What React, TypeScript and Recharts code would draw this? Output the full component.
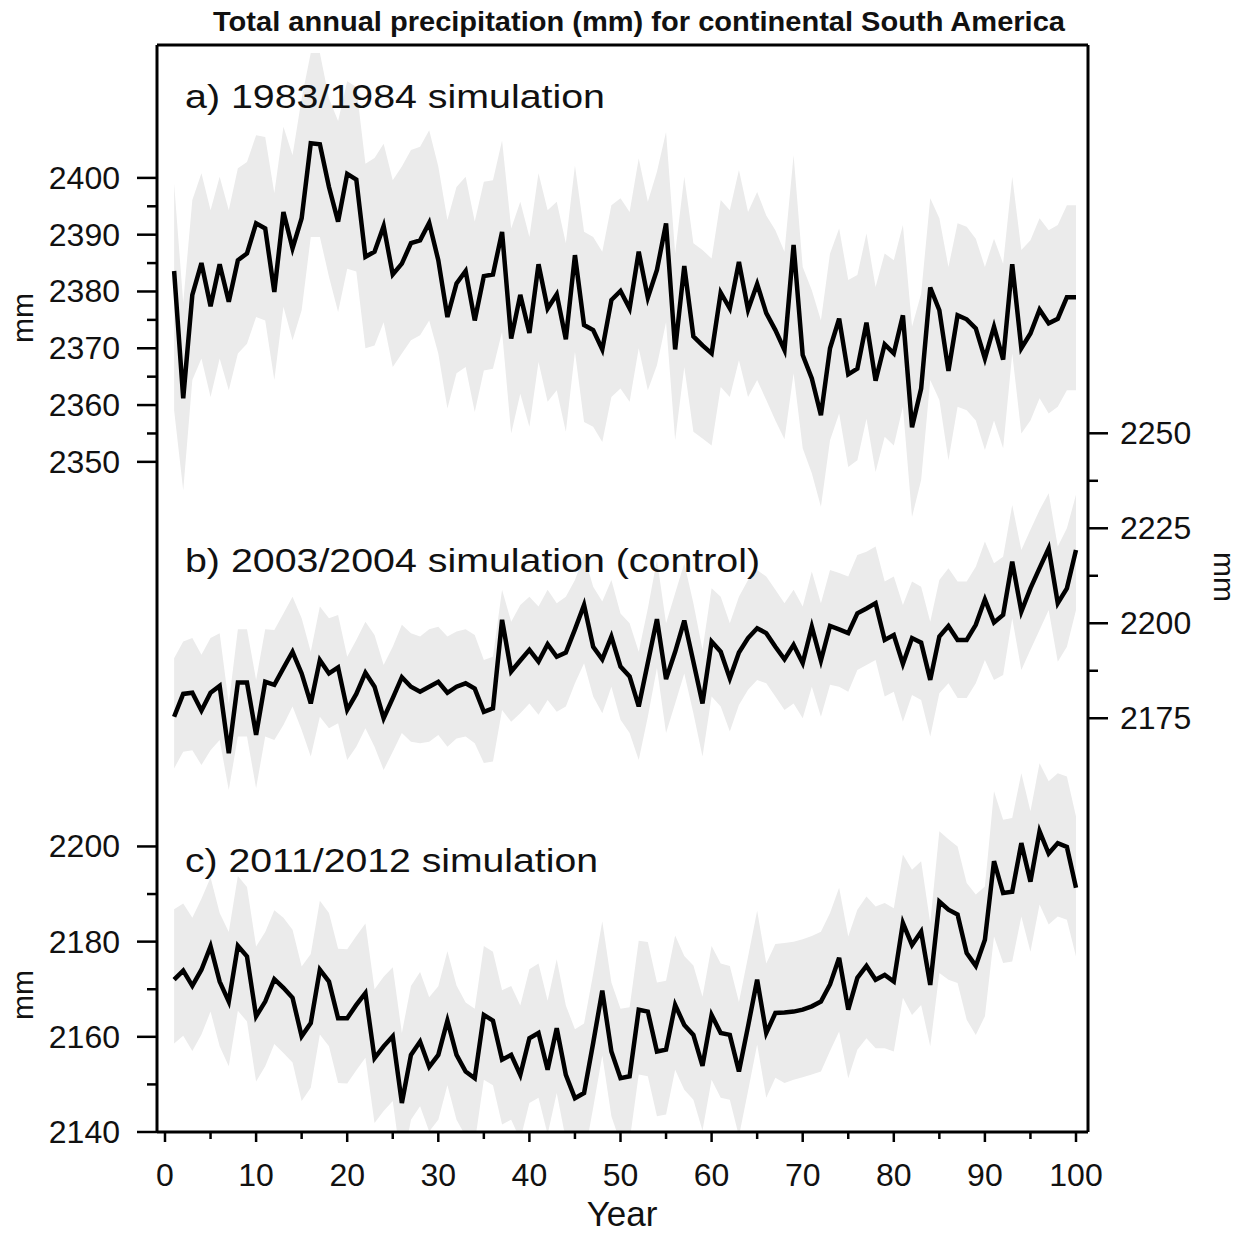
import React from 'react';
import { ComposedChart, Area, Line, XAxis, YAxis } from 'recharts';

const years: number[] = Array.from({ length: 100 }, (_, i) => i + 1);

const aMean = [2383.6,2361.2,2379.4,2385.0,2377.4,2384.8,2378.2,2385.5,2386.7,2392.0,2391.1,2379.9,2394.0,2387.6,2392.9,2406.1,2405.9,2398.4,2392.3,2400.7,2399.7,2386.1,2387.0,2391.5,2383.0,2384.9,2388.5,2389.0,2392.1,2385.5,2375.5,2381.4,2383.6,2374.9,2382.7,2383.0,2390.5,2371.7,2379.4,2372.7,2384.8,2377.0,2379.5,2371.6,2386.4,2374.1,2373.2,2369.8,2378.5,2380.1,2377.0,2387.0,2378.9,2383.8,2392.0,2369.8,2384.5,2372.1,2370.5,2369.1,2379.8,2377.0,2385.2,2376.8,2381.3,2376.2,2373.2,2369.7,2388.2,2368.8,2364.7,2358.2,2370.0,2375.2,2365.4,2366.4,2374.5,2364.3,2370.7,2369.1,2375.8,2356.1,2362.9,2380.7,2376.7,2366.0,2375.8,2375.1,2373.5,2368.2,2373.8,2368.0,2384.8,2370.0,2372.6,2376.8,2374.4,2375.2,2379.0,2379.0];
const aHigh = [2399.0,2378.0,2396.1,2400.8,2394.3,2400.2,2394.3,2401.7,2402.8,2407.5,2407.2,2397.3,2409.0,2404.0,2414.0,2422.0,2422.0,2414.0,2410.0,2417.0,2416.0,2402.5,2403.5,2406.0,2399.6,2402.0,2404.9,2405.5,2408.4,2402.0,2392.6,2398.4,2400.2,2392.3,2399.3,2399.6,2406.6,2391.1,2395.8,2389.6,2400.8,2394.3,2395.8,2388.5,2402.2,2390.5,2389.6,2387.0,2395.2,2396.4,2394.0,2403.4,2395.8,2401.1,2408.1,2386.7,2400.2,2388.5,2387.3,2385.8,2396.1,2394.3,2401.4,2394.0,2397.5,2393.4,2390.8,2387.0,2404.0,2384.3,2380.2,2374.9,2386.7,2391.1,2382.0,2382.9,2390.2,2380.8,2386.7,2385.5,2391.7,2373.8,2379.6,2396.4,2392.9,2384.3,2392.0,2391.4,2389.3,2384.3,2389.3,2384.9,2400.2,2387.3,2389.0,2392.9,2390.8,2391.7,2395.2,2395.2];
const aLow = [2359.1,2345.0,2364.4,2368.2,2361.4,2368.2,2362.6,2369.1,2370.8,2375.5,2374.9,2364.4,2377.3,2371.4,2376.7,2389.6,2389.6,2382.6,2376.4,2384.0,2383.5,2370.0,2370.5,2374.6,2366.7,2369.1,2371.4,2372.3,2374.9,2369.1,2359.4,2365.6,2366.7,2358.8,2366.1,2366.4,2372.9,2355.0,2362.0,2356.2,2367.6,2360.6,2362.6,2355.3,2369.4,2357.0,2356.2,2353.5,2361.4,2362.9,2360.6,2370.0,2362.6,2367.0,2374.6,2353.8,2366.7,2355.3,2354.1,2352.9,2363.2,2361.4,2367.9,2361.4,2364.4,2360.9,2357.3,2354.0,2365.6,2352.4,2348.0,2342.1,2353.8,2358.5,2349.1,2350.3,2357.6,2348.2,2354.4,2352.9,2359.7,2340.3,2346.8,2364.4,2360.9,2350.3,2359.7,2359.1,2357.3,2352.1,2357.3,2352.4,2369.1,2355.0,2357.3,2361.2,2358.5,2359.7,2362.6,2362.6];

const bMean = [2175.4,2181.4,2181.7,2177.0,2181.7,2183.5,2165.8,2184.4,2184.4,2170.6,2184.6,2183.8,2188.2,2192.5,2186.8,2178.9,2190.3,2186.8,2188.4,2177.2,2181.4,2187.0,2183.3,2175.0,2180.3,2185.8,2183.3,2182.0,2183.3,2184.6,2181.7,2183.3,2184.2,2182.8,2176.7,2177.6,2200.9,2187.3,2190.2,2193.0,2189.9,2194.5,2191.2,2192.3,2198.4,2204.8,2193.8,2190.5,2196.5,2188.6,2186.0,2178.1,2189.6,2201.1,2185.3,2192.5,2200.7,2189.9,2178.9,2195.2,2192.5,2185.5,2192.3,2196.1,2198.7,2197.4,2193.8,2190.5,2194.3,2189.5,2199.1,2190.2,2199.3,2198.4,2197.4,2202.6,2203.9,2205.3,2195.6,2196.9,2189.3,2196.1,2194.9,2185.1,2196.5,2199.3,2195.6,2195.6,2199.6,2206.3,2200.2,2202.2,2216.2,2203.1,2209.2,2214.5,2219.7,2205.3,2209.2,2219.3];
const bHigh = [2190.8,2195.2,2196.1,2191.7,2196.1,2197.4,2178.9,2198.4,2198.4,2185.1,2198.4,2198.2,2202.6,2207.0,2201.3,2192.5,2204.4,2201.3,2202.2,2191.2,2195.6,2200.4,2196.9,2189.0,2193.8,2199.6,2197.4,2196.5,2198.4,2199.1,2196.5,2197.8,2198.4,2196.9,2190.3,2191.2,2208.8,2200.4,2204.8,2207.0,2204.4,2208.8,2205.3,2207.0,2211.4,2218.0,2209.6,2205.7,2211.4,2202.6,2200.0,2192.5,2203.9,2216.7,2200.0,2207.9,2215.8,2205.3,2193.0,2209.2,2207.0,2200.0,2207.0,2211.4,2214.0,2212.3,2208.8,2205.3,2208.8,2204.4,2213.6,2205.3,2214.0,2213.2,2212.3,2218.0,2218.8,2220.2,2211.0,2212.3,2204.8,2211.0,2209.6,2200.4,2211.4,2214.5,2211.0,2211.0,2214.9,2221.5,2215.8,2217.5,2231.1,2219.3,2224.6,2229.8,2234.2,2220.2,2225.0,2233.8];
const bLow = [2161.8,2166.2,2166.6,2162.7,2166.6,2169.3,2156.1,2170.2,2170.2,2156.6,2170.2,2169.3,2173.2,2178.1,2171.9,2164.9,2175.4,2172.4,2173.7,2164.0,2167.5,2172.4,2167.5,2161.4,2166.2,2171.1,2168.8,2168.4,2168.8,2170.6,2167.5,2169.7,2170.2,2168.4,2163.2,2163.6,2177.2,2174.1,2176.3,2178.9,2175.9,2179.8,2176.7,2178.1,2184.2,2189.5,2180.7,2176.3,2183.3,2174.6,2171.1,2164.0,2175.4,2188.2,2171.1,2178.9,2186.8,2176.3,2164.9,2180.7,2178.1,2171.5,2178.5,2182.5,2185.1,2184.2,2180.7,2177.2,2178.9,2175.0,2183.3,2175.4,2183.8,2183.3,2182.0,2187.7,2189.0,2190.3,2180.7,2182.0,2174.1,2181.1,2179.8,2170.2,2181.6,2184.2,2180.3,2180.3,2184.2,2190.3,2185.1,2186.4,2201.3,2187.7,2193.0,2198.2,2203.5,2189.9,2193.8,2203.5];

const cMean = [2172.0,2173.9,2170.7,2174.1,2179.0,2171.6,2167.4,2179.1,2176.9,2164.3,2167.4,2172.1,2170.3,2168.2,2160.1,2162.9,2174.1,2171.6,2163.9,2163.9,2166.7,2169.2,2155.5,2158.0,2160.1,2146.1,2156.2,2159.0,2153.7,2156.2,2163.4,2156.2,2152.7,2151.3,2164.6,2163.4,2155.2,2156.2,2152.0,2159.7,2160.8,2153.1,2161.8,2152.0,2147.1,2148.2,2158.7,2169.7,2156.9,2151.3,2151.7,2165.7,2165.3,2156.9,2157.3,2166.7,2162.5,2160.4,2153.9,2164.6,2160.8,2160.4,2152.7,2162.2,2172.0,2160.8,2165.0,2165.1,2165.3,2165.7,2166.4,2167.4,2171.0,2176.6,2165.7,2172.4,2174.9,2172.0,2173.0,2171.6,2183.9,2179.3,2182.1,2170.9,2188.4,2186.7,2185.7,2177.6,2174.9,2180.4,2196.9,2190.2,2190.5,2200.7,2192.6,2203.2,2198.5,2200.7,2199.9,2191.3];
const cHigh = [2186.8,2188.0,2185.0,2189.0,2193.5,2186.0,2182.0,2193.8,2191.5,2179.0,2182.0,2186.6,2185.0,2182.5,2174.8,2177.4,2188.6,2186.0,2178.5,2178.4,2181.2,2183.8,2170.0,2172.6,2174.6,2160.8,2170.7,2173.6,2168.3,2170.6,2178.0,2170.8,2167.2,2165.9,2179.1,2177.9,2169.8,2170.7,2166.6,2174.2,2175.4,2167.6,2176.3,2166.6,2161.6,2162.8,2173.2,2184.3,2171.4,2165.9,2166.2,2180.2,2179.9,2171.4,2171.8,2181.3,2177.0,2175.0,2168.4,2179.1,2175.4,2174.9,2167.3,2176.8,2186.5,2175.4,2179.5,2179.7,2180.0,2180.5,2181.2,2182.1,2186.0,2191.3,2181.1,2186.7,2189.5,2187.4,2188.1,2187.0,2198.3,2195.1,2196.9,2183.9,2203.2,2201.5,2200.0,2192.3,2189.9,2191.6,2211.6,2205.6,2206.0,2215.4,2207.4,2217.5,2213.7,2215.4,2214.7,2206.3];
const cLow = [2158.6,2160.2,2157.0,2160.5,2165.3,2158.0,2153.8,2165.5,2163.2,2150.6,2153.8,2158.5,2156.6,2154.6,2146.5,2149.3,2160.5,2158.0,2150.3,2150.2,2153.0,2155.6,2141.9,2144.4,2146.5,2132.5,2142.6,2145.4,2140.1,2142.6,2149.8,2142.6,2139.1,2137.7,2151.0,2149.8,2141.6,2142.6,2138.4,2146.1,2147.2,2139.5,2148.2,2138.4,2133.5,2134.6,2145.1,2156.1,2143.3,2137.7,2138.1,2152.1,2151.7,2143.3,2143.7,2153.1,2148.9,2146.8,2140.3,2151.0,2147.2,2146.8,2139.1,2148.6,2158.4,2147.2,2151.4,2150.3,2151.0,2151.5,2152.1,2152.7,2157.0,2161.1,2151.3,2157.3,2159.7,2157.6,2157.6,2156.9,2168.2,2164.6,2166.7,2158.0,2173.4,2172.0,2171.3,2163.6,2160.4,2164.3,2181.1,2175.5,2175.8,2185.3,2177.9,2187.8,2183.6,2185.3,2184.6,2176.9];

const xTicks = [0,5,10,15,20,25,30,35,40,45,50,55,60,65,70,75,80,85,90,95,100];
const xMajor = [0,10,20,30,40,50,60,70,80,90,100];
const aTicks = [2350,2355,2360,2365,2370,2375,2380,2385,2390,2395,2400];
const aMajor = [2350,2360,2370,2380,2390,2400];
const bTicks = [2175,2187.5,2200,2212.5,2225,2237.5,2250];
const bMajor = [2175,2200,2225,2250];
const cTicks = [2140,2150,2160,2170,2180,2190,2200];
const cMajor = [2140,2160,2180,2200];

const data = years.map((year, i) => ({
  year,
  a: aMean[i],
  aBand: [aLow[i], aHigh[i]],
  b: bMean[i],
  bBand: [bLow[i], bHigh[i]],
  c: cMean[i],
  cBand: [cLow[i], cHigh[i]],
}));

const FONT = '"Liberation Sans", Arial, Helvetica, sans-serif';
const INK = '#111';

const makeLeftTick = (major: number[], dx: number) => (props: any) => {
  const { x, y, payload } = props;
  const x0 = x + dx;
  const isMajor = major.includes(payload.value);
  return (
    <g>
      <line x1={x0} x2={x0 - (isMajor ? 20 : 10)} y1={y} y2={y} stroke="#000" strokeWidth={2.5} />
      {isMajor && (
        <text x={x0 - 37} y={y} textAnchor="end" dominantBaseline="central" fontSize={32} fontFamily={FONT} fill={INK}>
          {payload.value}
        </text>
      )}
    </g>
  );
};

const makeRightTick = (major: number[]) => (props: any) => {
  const { x, y, payload } = props;
  const isMajor = major.includes(payload.value);
  return (
    <g>
      <line x1={x} x2={x + (isMajor ? 20 : 10)} y1={y} y2={y} stroke="#000" strokeWidth={2.5} />
      {isMajor && (
        <text x={x + 32} y={y} textAnchor="start" dominantBaseline="central" fontSize={32} fontFamily={FONT} fill={INK}>
          {payload.value}
        </text>
      )}
    </g>
  );
};

const XTick = (props: any) => {
  const { x, y, payload } = props;
  const isMajor = xMajor.includes(payload.value);
  return (
    <g>
      <line x1={x} x2={x} y1={y} y2={y + (isMajor ? 10 : 7)} stroke="#000" strokeWidth={2.5} />
      {isMajor && (
        <text x={x} y={y + 54} textAnchor="middle" fontSize={32} fontFamily={FONT} fill={INK}>
          {payload.value}
        </text>
      )}
    </g>
  );
};

const axisStroke = { stroke: '#000', strokeWidth: 3 };
const BAND = '#ebebeb';

export default function App() {
  return (
    <div style={{ position: 'absolute', left: 0, top: 0, width: 1241, height: 1234, background: '#fff' }}>
      <ComposedChart
        width={1241}
        height={1234}
        data={data}
        margin={{ top: 44, right: 152, bottom: 101, left: 155 }}
      >
        <XAxis
          dataKey="year"
          type="number"
          domain={[0, 100]}
          ticks={xTicks}
          interval={0}
          padding={{ left: 8, right: 12 }}
          height={1}
          tickSize={0}
          tickMargin={0}
          tickLine={false}
          tick={XTick}
          axisLine={axisStroke}
        />
        <XAxis
          xAxisId="top"
          orientation="top"
          dataKey="year"
          type="number"
          domain={[0, 100]}
          padding={{ left: 8, right: 12 }}
          height={1}
          tick={false}
          tickLine={false}
          axisLine={axisStroke}
        />
        <YAxis
          yAxisId="a"
          orientation="left"
          type="number"
          domain={[2232, 2423.4]}
          allowDataOverflow
          ticks={aTicks}
          interval={0}
          width={1}
          tickSize={0}
          tickMargin={0}
          tickLine={false}
          tick={makeLeftTick(aMajor, 0)}
          axisLine={axisStroke}
        />
        <YAxis
          yAxisId="c"
          orientation="left"
          type="number"
          domain={[2140, 2368.4]}
          allowDataOverflow
          ticks={cTicks}
          interval={0}
          width={1}
          tickSize={0}
          tickMargin={0}
          tickLine={false}
          tick={makeLeftTick(cMajor, 1)}
          axisLine={false}
        />
        <YAxis
          yAxisId="b"
          orientation="right"
          type="number"
          domain={[2066.1, 2352.2]}
          allowDataOverflow
          ticks={bTicks}
          interval={0}
          width={1}
          tickSize={0}
          tickMargin={0}
          tickLine={false}
          tick={makeRightTick(bMajor)}
          axisLine={axisStroke}
        />
        <Area yAxisId="a" type="linear" dataKey="aBand" stroke="none" fill={BAND} fillOpacity={1} isAnimationActive={false} />
        <Area yAxisId="b" type="linear" dataKey="bBand" stroke="none" fill={BAND} fillOpacity={1} isAnimationActive={false} />
        <Area yAxisId="c" type="linear" dataKey="cBand" stroke="none" fill={BAND} fillOpacity={1} isAnimationActive={false} />
        <Line yAxisId="a" type="linear" dataKey="a" stroke="#000" strokeWidth={4.5} dot={false} isAnimationActive={false} />
        <Line yAxisId="b" type="linear" dataKey="b" stroke="#000" strokeWidth={4.5} dot={false} isAnimationActive={false} />
        <Line yAxisId="c" type="linear" dataKey="c" stroke="#000" strokeWidth={4.5} dot={false} isAnimationActive={false} />
      </ComposedChart>
      <svg
        width={1241}
        height={1234}
        style={{ position: 'absolute', left: 0, top: 0, pointerEvents: 'none' }}
      >
        <text x={213} y={31} fontSize={27} fontWeight="bold" fontFamily={FONT} fill={INK} textLength={852} lengthAdjust="spacingAndGlyphs">
          Total annual precipitation (mm) for continental South America
        </text>
        <text x={185} y={108} fontSize={34} fontFamily={FONT} fill={INK} textLength={420} lengthAdjust="spacingAndGlyphs">
          a) 1983/1984 simulation
        </text>
        <text x={185} y={572} fontSize={34} fontFamily={FONT} fill={INK} textLength={575} lengthAdjust="spacingAndGlyphs">
          b) 2003/2004 simulation (control)
        </text>
        <text x={185} y={872} fontSize={34} fontFamily={FONT} fill={INK} textLength={413} lengthAdjust="spacingAndGlyphs">
          c) 2011/2012 simulation
        </text>
        <text x={622} y={1226} fontSize={35} textAnchor="middle" fontFamily={FONT} fill={INK}>
          Year
        </text>
        <text transform="translate(33,318) rotate(-90)" fontSize={30} textAnchor="middle" fontFamily={FONT} fill={INK}>
          mm
        </text>
        <text transform="translate(33,995) rotate(-90)" fontSize={30} textAnchor="middle" fontFamily={FONT} fill={INK}>
          mm
        </text>
        <text transform="translate(1214,577) rotate(90)" fontSize={30} textAnchor="middle" fontFamily={FONT} fill={INK}>
          mm
        </text>
      </svg>
    </div>
  );
}
